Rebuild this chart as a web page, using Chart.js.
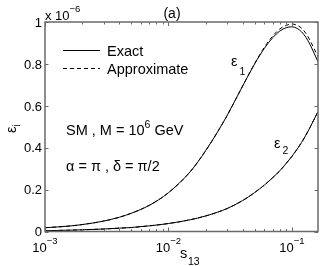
<!DOCTYPE html>
<html><head><meta charset="utf-8">
<script src="https://cdn.jsdelivr.net/npm/chart.js@4/dist/chart.umd.min.js"></script>
<style>html,body{margin:0;padding:0;background:#fff;overflow:hidden}#wrap{width:322px;height:266px}</style>
</head><body><div id="wrap"><canvas id="c" width="322" height="266"></canvas></div>
<script>
// ---- data (values in units of 1e-6) ----
const s13 = [0.001,0.0015,0.002,0.003,0.004,0.005,0.007,0.01,0.015,0.02,0.025,0.03,0.04,0.05,0.06,0.07,0.08,0.09,0.1,0.11,0.12,0.13,0.14,0.15,0.163];
const eps1Exact  = [0.018,0.025,0.033,0.05,0.068,0.087,0.125,0.185,0.285,0.385,0.475,0.555,0.695,0.80,0.875,0.925,0.957,0.973,0.977,0.97,0.953,0.927,0.894,0.857,0.81];
const eps1Approx = [0.018,0.025,0.033,0.05,0.068,0.087,0.125,0.185,0.285,0.385,0.475,0.555,0.695,0.802,0.88,0.933,0.967,0.984,0.99,0.985,0.97,0.946,0.914,0.878,0.834];
const eps2Exact  = [0.004,0.006,0.008,0.012,0.016,0.019,0.027,0.038,0.056,0.074,0.092,0.11,0.148,0.186,0.222,0.257,0.29,0.325,0.358,0.392,0.425,0.46,0.495,0.53,0.572];
const eps2Approx = eps2Exact.slice();
const seriesLabels = ["Exact","Approximate"];
const yTicks = [0,0.2,0.4,0.6,0.8,1];
const yTickLabels = ["0","0.2","0.4","0.6","0.8","1"];
const xDecades = [0.001,0.01,0.1];
const xDecadeExps = ["\u22123","\u22122","\u22121"];
const xMin = 0.001, xMax = 0.163;

const FONT = "'Liberation Sans', Arial, Helvetica, sans-serif";
const pts = (ys) => s13.map((x,i)=>({x:x,y:ys[i]}));

const common = {borderColor:'#000',borderWidth:1,pointRadius:0,fill:false,cubicInterpolationMode:'monotone'};

const deco = {
  id:'deco',
  afterDraw(chart){
    const ctx = chart.ctx, a = chart.chartArea;
    const xs = chart.scales.x, ys = chart.scales.y;
    ctx.save();
    // box
    ctx.strokeStyle = '#6a6a6a'; ctx.lineWidth = 1.5;
    ctx.strokeRect(a.left, a.top, a.right-a.left, a.bottom-a.top);
    // x ticks inside, top and bottom
    ctx.lineWidth = 1;
    xDecades.forEach(d=>{
      for(let k=1;k<=9;k++){
        const v = d*k; if(v>xMax+1e-9) break;
        const px = Math.round(xs.getPixelForValue(v))+0.5;
        const L = k===1?4:2.5;
        ctx.beginPath();
        ctx.moveTo(px,a.bottom); ctx.lineTo(px,a.bottom-L);
        ctx.moveTo(px,a.top); ctx.lineTo(px,a.top+L);
        ctx.stroke();
      }
    });
    // y ticks inside, left and right
    yTicks.forEach(v=>{
      const py = Math.round(ys.getPixelForValue(v))+0.5;
      ctx.beginPath();
      ctx.moveTo(a.left,py); ctx.lineTo(a.left+3.5,py);
      ctx.moveTo(a.right,py); ctx.lineTo(a.right-3.5,py);
      ctx.stroke();
    });
    ctx.fillStyle = '#000';
    ctx.textBaseline = 'alphabetic';
    // y tick labels
    ctx.font = '13px '+FONT; ctx.textAlign='right';
    yTicks.forEach((v,i)=>{
      const py = ys.getPixelForValue(v);
      ctx.fillText(yTickLabels[i], a.left-3, py+4.7);
    });
    // x tick labels 10^n
    ctx.textAlign='left';
    xDecades.forEach((d,i)=>{
      const px = xs.getPixelForValue(d);
      ctx.font = '13px '+FONT; const w1 = ctx.measureText('10').width;
      ctx.font = '9.5px '+FONT; const w2 = ctx.measureText(xDecadeExps[i]).width;
      const x0 = px - (w1+w2)/2;
      ctx.font = '13px '+FONT; ctx.fillText('10', x0, 252);
      ctx.font = '9.5px '+FONT; ctx.fillText(xDecadeExps[i], x0+w1, 244);
    });
    // x axis label s_13
    ctx.font = '14.5px '+FONT; ctx.fillText('s', 180, 258);
    ctx.font = '10.5px '+FONT; ctx.fillText('13', 188, 264.5);
    // exponent label
    ctx.font = '13px '+FONT; ctx.fillText('x 10', 45, 19.5);
    const wx = ctx.measureText('x 10').width;
    ctx.font = '9.5px '+FONT; ctx.fillText('\u22126', 45+wx, 12);
    // title
    ctx.font = '14px '+FONT; ctx.textAlign='center'; ctx.fillText('(a)', 172, 17.5);
    ctx.textAlign='left';
    // y axis label epsilon_i (rotated)
    ctx.save();
    ctx.translate(16, 133); ctx.rotate(-Math.PI/2);
    ctx.font = '14.5px '+FONT; ctx.fillText('\u03b5', 0, 0);
    const we = ctx.measureText('\u03b5').width;
    ctx.font = '10.5px '+FONT; ctx.fillText('i', we, 4);
    ctx.restore();
    // legend
    ctx.strokeStyle='#000'; ctx.lineWidth=1;
    ctx.beginPath(); ctx.moveTo(63,50.5); ctx.lineTo(100,50.5); ctx.stroke();
    ctx.setLineDash([4,3]);
    ctx.beginPath(); ctx.moveTo(63,68.5); ctx.lineTo(100,68.5); ctx.stroke();
    ctx.setLineDash([]);
    ctx.font = '14.5px '+FONT;
    ctx.fillText(seriesLabels[0], 107, 55.5);
    ctx.fillText(seriesLabels[1], 107, 73.5);
    // annotations
    ctx.fillText('SM , M = 10', 66, 135);
    const wsm = ctx.measureText('SM , M = 10').width;
    ctx.font = '10.5px '+FONT; ctx.fillText('6', 66+wsm, 128);
    const w6 = ctx.measureText('6').width;
    ctx.font = '14.5px '+FONT; ctx.fillText(' GeV', 66+wsm+w6, 135);
    ctx.fillText('\u03b1 = \u03c0 , \u03b4 = \u03c0/2', 66, 170.5);
    // curve labels
    ctx.fillText('\u03b5', 231, 65.5);
    ctx.font = '10.5px '+FONT; ctx.fillText('1', 239.5, 75);
    ctx.font = '14.5px '+FONT; ctx.fillText('\u03b5', 274, 148);
    ctx.font = '10.5px '+FONT; ctx.fillText('2', 282.5, 154);
    ctx.restore();
  }
};

new Chart(document.getElementById('c'), {
  type:'line',
  data:{datasets:[
    Object.assign({label:'eps1 '+seriesLabels[0], data:pts(eps1Exact)}, common),
    Object.assign({label:'eps1 '+seriesLabels[1], data:pts(eps1Approx), borderDash:[4,3]}, common),
    Object.assign({label:'eps2 '+seriesLabels[0], data:pts(eps2Exact)}, common),
    Object.assign({label:'eps2 '+seriesLabels[1], data:pts(eps2Approx), borderDash:[4,3]}, common)
  ]},
  options:{
    responsive:false, devicePixelRatio:1, animation:false,
    layout:{padding:{left:45,top:22,right:4,bottom:34.5}},
    plugins:{legend:{display:false},tooltip:{enabled:false}},
    scales:{
      x:{type:'logarithmic',min:xMin,max:xMax,display:false},
      y:{type:'linear',min:0,max:1,display:false}
    }
  },
  plugins:[deco]
});
</script>
</body></html>
